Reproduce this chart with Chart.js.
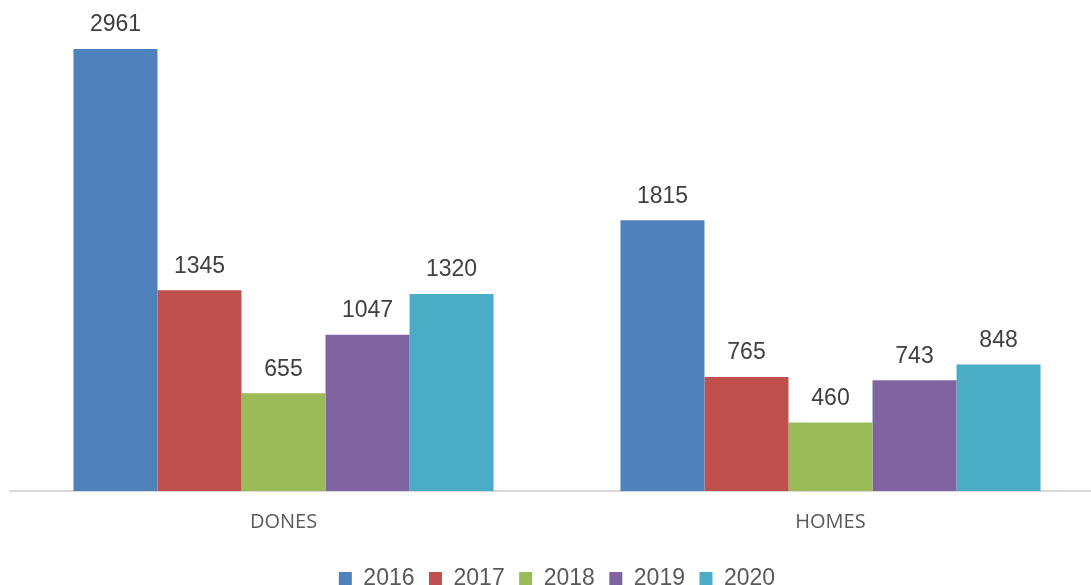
<!DOCTYPE html>
<html>
<head>
<meta charset="utf-8">
<script src="https://cdn.jsdelivr.net/npm/chart.js@4.4.1/dist/chart.umd.min.js"></script>
<style>
  html, body { margin: 0; padding: 0; overflow: hidden; background: #fff; }
  #wrap { width: 1104px; height: 607px; position: relative; }
</style>
</head>
<body>
<div id="wrap"><canvas id="chart"></canvas></div>
<script>
// categorias y series
const categories = ['DONES', 'HOMES'];
const years = ['2016', '2017', '2018', '2019', '2020'];
const values2016 = [2961, 1815];
const values2017 = [1345, 765];
const values2018 = [655, 460];
const values2019 = [1047, 743];
const values2020 = [1320, 848];
const colors = ['#4f81bd', '#c0504d', '#9bbb59', '#8064a2', '#4bacc6'];

const seriesValues = [values2016, values2017, values2018, values2019, values2020];

// etiquetas de valor encima de cada barra
const valueLabels = {
  id: 'valueLabels',
  afterDatasetsDraw(chart) {
    const ctx = chart.ctx;
    ctx.save();
    ctx.font = '23px "Liberation Sans", Arial, sans-serif';
    ctx.fillStyle = '#404040';
    ctx.textAlign = 'center';
    ctx.textBaseline = 'middle';
    chart.data.datasets.forEach((ds, i) => {
      const meta = chart.getDatasetMeta(i);
      meta.data.forEach((bar, j) => {
        ctx.fillText(ds.data[j], bar.x, bar.y - 24);
      });
    });
    ctx.restore();
  }
};

const ctx = document.getElementById('chart').getContext('2d');
new Chart(ctx, {
  type: 'bar',
  data: {
    labels: categories,
    datasets: years.map((y, i) => ({
      label: y,
      data: seriesValues[i],
      backgroundColor: colors[i],
      borderWidth: 0
    }))
  },
  options: {
    responsive: true,
    maintainAspectRatio: false,
    animation: false,
    layout: { padding: { left: 10, right: 0, top: 0, bottom: 7 } },
    datasets: {
      bar: { categoryPercentage: 0.768, barPercentage: 1 }
    },
    scales: {
      x: {
        grid: { display: false, drawTicks: false },
        border: { display: true, color: '#d9d9d9', width: 2 },
        ticks: {
          color: '#595959',
          padding: 21,
          font: { family: '"Open Sans", sans-serif', size: 20, lineHeight: 0.97 }
        }
      },
      y: {
        display: false,
        min: 0,
        max: 3290
      }
    },
    plugins: {
      legend: {
        position: 'bottom',
        labels: {
          boxWidth: 13,
          boxHeight: 13,
          padding: 14.5,
          color: '#595959',
          font: { family: '"Liberation Sans", Arial, sans-serif', size: 23 }
        }
      },
      tooltip: { enabled: false }
    }
  },
  plugins: [valueLabels]
});
</script>
</body>
</html>
